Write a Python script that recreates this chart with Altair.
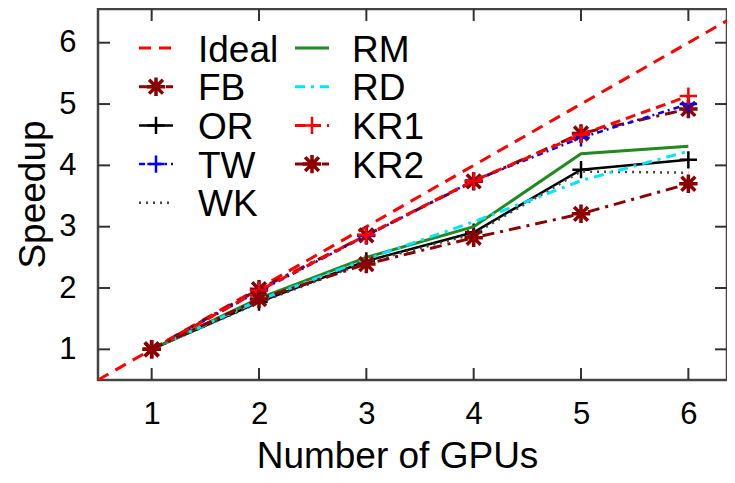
import altair as alt
import pandas as pd

# ---------------- data ----------------
gpus = [1, 2, 3, 4, 5, 6]
ideal_x = [0.5, 7.0]
ideal_y = [0.5, 7.0]
fb = [1.0, 1.98, 2.86, 3.74, 4.52, 4.92]
orr = [1.0, 1.77, 2.44, 2.91, 3.93, 4.09]
tw = [1.0, 1.95, 2.85, 3.75, 4.45, 5.00]
wk = [1.0, 1.76, 2.42, 2.88, 3.90, 3.88]
rm = [1.0, 1.83, 2.50, 3.00, 4.19, 4.31]
rd = [1.0, 1.80, 2.47, 3.08, 3.75, 4.23]
kr1 = [1.0, 1.96, 2.86, 3.75, 4.50, 5.13]
kr2 = [1.0, 1.82, 2.39, 2.82, 3.21, 3.70]
x_ticks = [1, 2, 3, 4, 5, 6]
y_ticks = [1, 2, 3, 4, 5, 6]
legend_col1 = ["Ideal", "FB", "OR", "TW", "WK"]
legend_col2 = ["RM", "RD", "KR1", "KR2"]

# ---------------- styles ----------------
FONT = "Liberation Sans"
W, H = 629, 371
PLUS = "M-1,0L1,0M0,-1L0,1"
STAR = "M-1,0L1,0M0,-1L0,1M-0.75,-0.75L0.75,0.75M-0.75,0.75L0.75,-0.75"
DARKRED = "#8b0000"

styles = {
    "Ideal": dict(color="#ff0000", dash=[12, 8], width=3, marker=None),
    "FB": dict(color=DARKRED, dash=[12, 6, 3, 6], width=3, marker=STAR),
    "OR": dict(color="#000000", dash=None, width=2.5, marker=PLUS),
    "TW": dict(color="#0000ff", dash=[6, 4, 2, 4], width=2.5, marker=PLUS),
    "WK": dict(color="#444444", dash=[2, 5], width=2.5, marker=None),
    "RM": dict(color="#1f8a1f", dash=None, width=3, marker=None),
    "RD": dict(color="#00e5ff", dash=[10, 6, 3, 6], width=3, marker=None),
    "KR1": dict(color="#ff0000", dash=[10, 6], width=3, marker=PLUS),
    "KR2": dict(color=DARKRED, dash=[12, 6, 3, 6], width=3, marker=STAR),
}

series = {
    "Ideal": (ideal_x, ideal_y),
    "FB": (gpus, fb),
    "OR": (gpus, orr),
    "TW": (gpus, tw),
    "WK": (gpus, wk),
    "RM": (gpus, rm),
    "RD": (gpus, rd),
    "KR1": (gpus, kr1),
    "KR2": (gpus, kr2),
}

xs = alt.Scale(domain=[0.5, 6.36], nice=False, zero=False)
ys = alt.Scale(domain=[0.5, 6.55], nice=False, zero=False)

x_axis = alt.Axis(values=x_ticks, title="Number of GPUs", labelPadding=19,
                  titleX=299, titleY=87, titleBaseline="alphabetic",
                  titleAnchor="start", titleAlign="center")
y_axis = alt.Axis(values=y_ticks, title="Speedup", labelPadding=22,
                  titleX=-54, titleY=185, titleAngle=-90, titleBaseline="alphabetic",
                  titleAlign="center", titleAnchor="start")


def X(field="x"):
    return alt.X(f"{field}:Q", scale=xs, axis=x_axis)


def Y(field="y"):
    return alt.Y(f"{field}:Q", scale=ys, axis=y_axis)


def marker_kw(st):
    star = st["marker"] == STAR
    return dict(shape=st["marker"], size=340 if star else 300, filled=False,
                color=st["color"], strokeWidth=3.5 if star else 2.5, opacity=1)


layers = []
for name, (xv, yv) in series.items():
    st = styles[name]
    df = pd.DataFrame({"x": xv, "y": yv})
    line_kw = dict(color=st["color"], strokeWidth=st["width"], clip=True)
    if st["dash"]:
        line_kw["strokeDash"] = st["dash"]
    layers.append(alt.Chart(df).mark_line(**line_kw).encode(x=X(), y=Y()))
    if st["marker"]:
        layers.append(alt.Chart(df).mark_point(**marker_kw(st)).encode(x=X(), y=Y()))

# inward tick marks on all four sides
TICKC = "#333333"
tick_len = 12
xt = pd.DataFrame({"x": x_ticks})
yt = pd.DataFrame({"y": y_ticks})
layers.append(alt.Chart(xt).mark_rule(color=TICKC, strokeWidth=2)
              .encode(x=X(), y=alt.value(H), y2=alt.value(H - tick_len)))
layers.append(alt.Chart(xt).mark_rule(color=TICKC, strokeWidth=2)
              .encode(x=X(), y=alt.value(0), y2=alt.value(tick_len)))
layers.append(alt.Chart(yt).mark_rule(color=TICKC, strokeWidth=2)
              .encode(y=Y(), x=alt.value(0), x2=alt.value(tick_len)))
layers.append(alt.Chart(yt).mark_rule(color=TICKC, strokeWidth=2)
              .encode(y=Y(), x=alt.value(W - tick_len), x2=alt.value(W)))

# ---------------- legend (two columns, column-major) ----------------
dummy = pd.DataFrame({"a": [0]})
row0, row_step = 39, 38.7
cols = [(legend_col1, 41, 75, 100), (legend_col2, 197, 231, 254)]
for names, lx1, lx2, tx in cols:
    for i, name in enumerate(names):
        st = styles[name]
        ry = row0 + row_step * i
        rule_kw = dict(color=st["color"], strokeWidth=st["width"])
        if st["dash"]:
            rule_kw["strokeDash"] = st["dash"]
        layers.append(alt.Chart(dummy).mark_rule(**rule_kw)
                      .encode(x=alt.value(lx1), x2=alt.value(lx2), y=alt.value(ry)))
        if st["marker"]:
            layers.append(alt.Chart(dummy).mark_point(**marker_kw(st))
                          .encode(x=alt.value((lx1 + lx2) / 2), y=alt.value(ry)))
        layers.append(alt.Chart(dummy).mark_text(text=name, align="left", baseline="alphabetic",
                                                 font=FONT, fontSize=37, color="#000000")
                      .encode(x=alt.value(tx), y=alt.value(ry + 13.5)))

chart = (
    alt.layer(*layers)
    .properties(width=W, height=H,
                autosize=alt.AutoSizeParams(type="none"),
                padding={"left": 90, "top": 1, "right": 0, "bottom": 95})
    .configure_view(stroke="#444444", strokeWidth=2.5)
    .configure_axis(ticks=False, domain=False, grid=False,
                    labelFont=FONT, labelFontSize=31, labelColor="#000000",
                    titleFont=FONT, titleFontSize=37, titleColor="#000000",
                    titleFontWeight="normal")
)

chart.save("out.html", embed_options={"renderer": "svg", "actions": False})
